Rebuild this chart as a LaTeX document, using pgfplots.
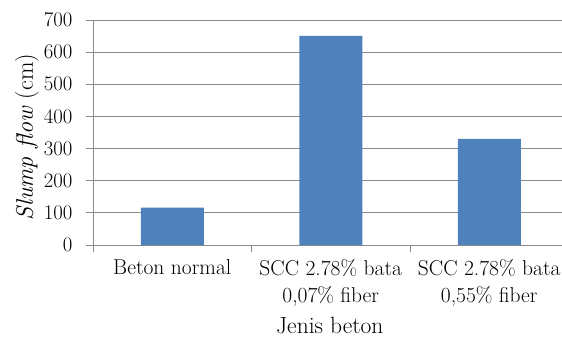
\documentclass[border=0pt]{standalone}
\usepackage{pgfplots}
\pgfplotsset{compat=1.18}
\definecolor{barblue}{HTML}{4F81BD}
\definecolor{gridgray}{HTML}{8A8A8A}
\begin{document}
\begin{tikzpicture}[x=1pt,y=1pt]
\useasboundingbox (0,0) rectangle (562,343);
\begin{axis}[
  at={(93pt,98pt)}, anchor=south west,
  scale only axis, width=475.5pt, height=225pt,
  ymin=0, ymax=700, ytick={0,100,...,700},
  xmin=-0.5, xmax=2.5,
  xtick={0,1,2},
  xticklabels={Beton normal, {SCC 2.78\% bata\\0,07\% fiber}, {SCC 2.78\% bata\\0,55\% fiber}},
  minor xtick={-0.5,0.5,1.5,2.5},
  major x tick style={draw=none},
  minor x tick style={gridgray, line width=0.9pt},
  minor tick length=7pt,
  major tick length=7pt,
  y tick style={gridgray, line width=0.9pt},
  tick align=outside,
  axis x line*=bottom, axis y line*=left,
  axis line style={gridgray, line width=0.9pt, -},
  ymajorgrids, grid style={gridgray, line width=0.9pt},
  ybar, bar width=63pt,
  yticklabel style={font=\fontsize{19.5}{19.5}\selectfont, text=black, xshift=-10pt},
  xticklabel style={font=\fontsize{21.5}{27}\selectfont, align=center, text=black, yshift=-4pt},
  ylabel={\textit{Slump flow} (cm)},
  xlabel={Jenis beton},
  ylabel style={font=\fontsize{24}{24}\selectfont, at={(axis description cs:-0.139,0.48)}, anchor=center, rotate=0},
  xlabel style={font=\fontsize{23.5}{24}\selectfont, at={(axis description cs:0.498,-0.356)}, anchor=center},
  clip=false,
]
\addplot[fill=barblue, draw=none] coordinates {(0,116) (1,651) (2,330)};
\end{axis}
\end{tikzpicture}
\end{document}
